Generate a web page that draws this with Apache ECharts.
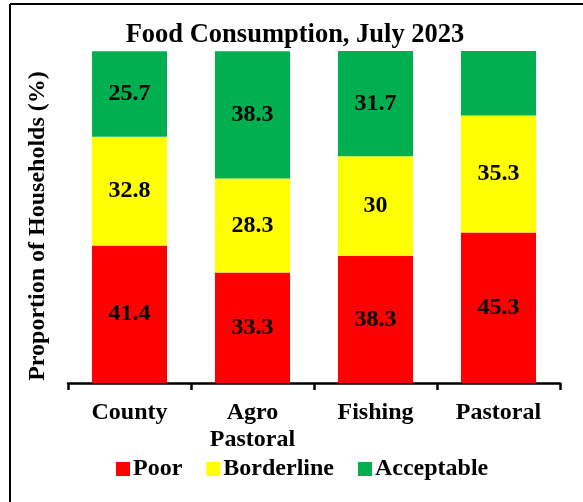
<!DOCTYPE html>
<html><head><meta charset="utf-8">
<script src="https://cdn.jsdelivr.net/npm/echarts@6/dist/echarts.min.js"></script>
<style>html,body{margin:0;padding:0;background:#fff}#c{width:583px;height:502px}</style>
</head><body><div id="c"></div>
<script>
const categories = ['County', 'Agro\nPastoral', 'Fishing', 'Pastoral'];
const poor = [41.4, 33.3, 38.3, 45.3];
const borderline = [32.8, 28.3, 30, 35.3];
const acceptable = [25.7, 38.3, 31.7, 19.4];
const showAcceptableLabel = [true, true, true, false];

const F = '"Liberation Serif","Times New Roman",serif';
const lbl = {show: true, position: 'inside', color: '#000', fontFamily: F, fontWeight: 'bold', fontSize: 24};
const chart = echarts.init(document.getElementById('c'));
chart.setOption({
  animation: false,
  title: {text: 'Food Consumption, July 2023', left: 290, textAlign: 'center', top: 17,
    textStyle: {fontFamily: F, fontWeight: 'bold', fontSize: 26.5, color: '#000'}},
  legend: {bottom: 16, left: 111, itemWidth: 14, itemHeight: 14, itemGap: 24,
    icon: 'rect',
    textStyle: {fontFamily: F, fontWeight: 'bold', fontSize: 24, color: '#000', padding: [0,0,0,-2]},
    data: ['Poor', 'Borderline', 'Acceptable']},
  grid: {left: 68, right: 23, top: 51, bottom: 119},
  xAxis: {type: 'category', data: categories,
    axisLine: {lineStyle: {color: '#000', width: 2.5}},
    axisTick: {show: true, length: 7, lineStyle: {color: '#000', width: 2.5}},
    axisLabel: {fontFamily: F, fontWeight: 'bold', fontSize: 24, color: '#000', margin: 16, lineHeight: 27}},
  yAxis: {type: 'value', min: 0, max: 100, show: true,
    name: 'Proportion of Households (%)', nameLocation: 'middle', nameGap: 18,
    nameTextStyle: {fontFamily: F, fontWeight: 'bold', fontSize: 24, color: '#000', padding: [0, 18, 0, 0]},
    axisLine: {show: false}, axisTick: {show: false}, axisLabel: {show: false}, splitLine: {show: false}},
  series: [
    {name: 'Poor', type: 'bar', stack: 't', barWidth: '61%', data: poor,
      itemStyle: {color: '#FF0000'}, label: lbl},
    {name: 'Borderline', type: 'bar', stack: 't', data: borderline,
      itemStyle: {color: '#FFFF00'}, label: lbl},
    {name: 'Acceptable', type: 'bar', stack: 't', itemStyle: {color: '#00B050'},
      data: acceptable.map((v, i) => ({value: v, label: {show: showAcceptableLabel[i]}})), label: lbl}
  ],
  graphic: [
    {type: 'line', shape: {x1: 10, y1: 4, x2: 583, y2: 4}, style: {stroke: '#000', lineWidth: 2}},
    {type: 'line', shape: {x1: 10, y1: 4, x2: 10, y2: 502}, style: {stroke: '#000', lineWidth: 2}}
  ]
});
</script></body></html>
